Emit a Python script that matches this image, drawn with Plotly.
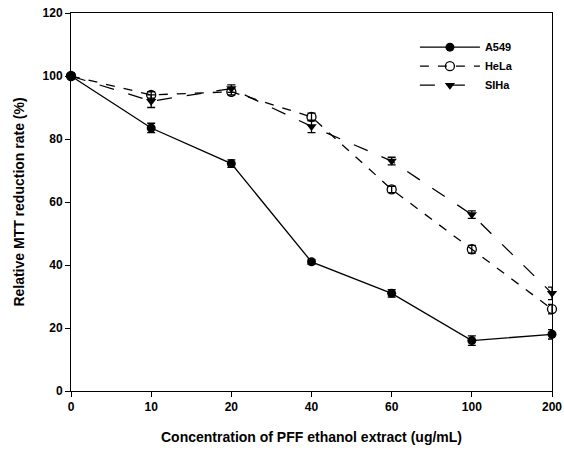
import plotly.graph_objects as go

conc = ["0", "10", "20", "40", "60", "100", "200"]
a549 = [100, 83.5, 72.2, 41, 31, 16, 18]
a549_err = [0.8, 1.5, 1.2, 0.8, 1.2, 1.5, 1.5]
hela = [100, 94, 95, 87, 64, 45, 26]
hela_err = [0.8, 1.0, 1.0, 1.2, 1.0, 1.2, 1.5]
siha = [100, 92, 96, 84, 73, 56, 31]
siha_err = [0.8, 2.0, 1.2, 2.0, 1.2, 1.2, 2.0]

font_family = "Liberation Sans, Arial, sans-serif"

fig = go.Figure()
fig.add_trace(go.Scatter(
    x=conc, y=a549, name="A549", mode="lines+markers",
    line=dict(color="black", width=1.3),
    marker=dict(symbol="circle", size=9, color="black"),
    error_y=dict(type="data", array=a549_err, color="black", thickness=1.3, width=4),
    cliponaxis=False,
))
fig.add_trace(go.Scatter(
    x=conc, y=hela, name="HeLa", mode="lines+markers",
    line=dict(color="black", width=1.3, dash="dash"),
    marker=dict(symbol="circle-open", size=9, color="black", line=dict(width=1.3)),
    error_y=dict(type="data", array=hela_err, color="black", thickness=1.3, width=4),
    cliponaxis=False,
))
fig.add_trace(go.Scatter(
    x=conc, y=siha, name="SIHa", mode="lines+markers",
    line=dict(color="black", width=1.3, dash="longdash"),
    marker=dict(symbol="triangle-down", size=9, color="black"),
    error_y=dict(type="data", array=siha_err, color="black", thickness=1.3, width=4),
    cliponaxis=False,
))

fig.update_layout(
    width=564, height=453,
    margin=dict(l=71, r=12, t=13, b=62),
    paper_bgcolor="white", plot_bgcolor="white",
    font=dict(family=font_family, color="black", size=12),
    showlegend=True,
    legend=dict(
        x=0.715, y=0.948, xanchor="left", yanchor="top",
        bgcolor="rgba(0,0,0,0)", borderwidth=0,
        font=dict(family=font_family, size=11, color="black", weight="bold"),
        itemwidth=60, tracegroupgap=0,
    ),
    xaxis=dict(
        type="category", categoryorder="array", categoryarray=conc,
        range=[0, 6], automargin=False,
        showgrid=False, zeroline=False,
        showline=True, linecolor="black", linewidth=1, mirror=True,
        ticks="outside", ticklen=5, tickcolor="black",
        tickfont=dict(family=font_family, size=12, weight="bold"),
        title=dict(text="Concentration of PFF ethanol extract (ug/mL)",
                   font=dict(family=font_family, size=14, weight="bold"), standoff=18),
    ),
    yaxis=dict(
        range=[0, 120], dtick=20, automargin=False,
        showgrid=False, zeroline=False,
        showline=True, linecolor="black", linewidth=1, mirror=True,
        ticks="outside", ticklen=5, tickcolor="black",
        tickfont=dict(family=font_family, size=12, weight="bold"),
        title=dict(text="Relative MTT reduction rate (%)",
                   font=dict(family=font_family, size=14, weight="bold"), standoff=14),
    ),
)

fig.write_html(
    "out.html",
    config={"displayModeBar": False},
    post_script="document.body.style.margin='0';document.body.style.overflow='hidden';",
)
